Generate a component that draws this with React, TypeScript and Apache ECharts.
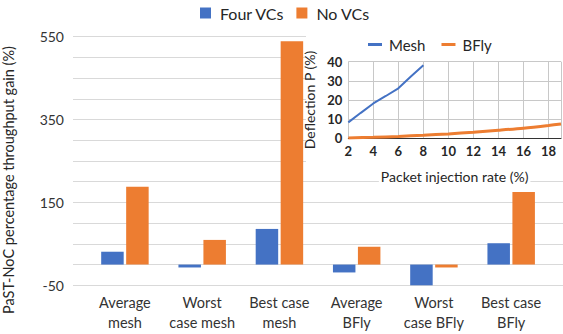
import React, { useEffect, useRef } from "react";
import * as echarts from "echarts";

const categories = [
  "Average\nmesh",
  "Worst\ncase mesh",
  "Best case\nmesh",
  "Average\nBFly",
  "Worst\ncase BFly",
  "Best case\nBFly",
];
const fourVCs = [31, -7, 86, -19, -53, 51.5];
const noVCs = [188, 59.5, 539, 43, -7, 175];
const mainTickLabels = [-50, 150, 350, 550];

const meshX = [2, 3, 4, 5, 6, 7, 8];
const meshY = [8.3, 13.3, 18.2, 22.1, 26.1, 32.3, 38.2];
const bflyX = [2, 4, 6, 8, 10, 12, 14, 16, 18, 19];
const bflyY = [0.2, 0.5, 1.0, 1.6, 2.3, 3.2, 4.2, 5.3, 6.7, 7.5];

const BLUE = "#4472C4";
const ORANGE = "#ED7D31";
const FONT = "Lato";

export default function App() {
  const ref = useRef<HTMLDivElement>(null);
  useEffect(() => {
    if (!ref.current) return;
    const chart = echarts.init(ref.current, null, { renderer: "svg" });
    const top = 36.6;
    const bottom = 334 - 285.3;
    chart.setOption({
      animation: false,
      backgroundColor: "#fff",
      textStyle: { fontFamily: FONT },
      legend: [
        {
          data: ["Four VCs", "No VCs"],
          left: 195,
          top: 0,
          itemWidth: 11,
          itemHeight: 11,
          itemGap: 12,
          icon: "rect",
          textStyle: { fontSize: 16, color: "#262626", fontFamily: FONT, padding: [0, 0, 0, 4] },
        },
        {
          data: ["Mesh", "BFly"],
          left: 363,
          top: 32,
          itemWidth: 14,
          itemHeight: 3,
          itemGap: 16,
          icon: "rect",
          textStyle: { fontSize: 15, color: "#262626", fontFamily: FONT, padding: [0, 0, 0, 2] },
          z: 10,
        },
      ],
      graphic: [
        {
          type: "rect",
          shape: { x: 306, y: 22, width: 257, height: 158 },
          style: { fill: "#fff" },
          z: 1,
          silent: true,
        },
        {
          type: "text",
          x: 8,
          y: 180,
          rotation: Math.PI / 2,
          z: 2,
          silent: true,
          style: {
            text: "PaST-NoC percentage throughput gain (%)",
            fontSize: 14.5,
            fontFamily: FONT,
            fill: "#262626",
            align: "center",
            verticalAlign: "middle",
          },
        },
      ],
      grid: [
        { left: 73, right: 0, top, bottom, containLabel: false },
        { left: 86.3, right: 563 - 549.8, top, bottom, containLabel: false },
        { left: 348.3, right: 2, top: 61.7, bottom: 334 - 138.3, containLabel: false },
      ],
      xAxis: [
        { type: "category", gridIndex: 0, show: false, data: categories },
        {
          type: "category",
          gridIndex: 1,
          data: categories,
          axisLine: { show: false },
          axisTick: { show: false },
          axisLabel: {
            fontSize: 14.5,
            lineHeight: 20,
            color: "#333",
            margin: 7,
            interval: 0,
            fontFamily: FONT,
          },
        },
        {
          type: "value",
          gridIndex: 2,
          min: 2,
          max: 19,
          interval: 2,
          z: 3,
          axisLine: { show: true, onZero: false, lineStyle: { color: "#333", width: 1 } },
          axisTick: { show: false },
          splitLine: { show: true, lineStyle: { color: "#C8C8C8", width: 1 } },
          axisLabel: {
            fontSize: 13,
            fontWeight: "bold",
            color: "#262626",
            margin: 6,
            showMaxLabel: false,
            fontFamily: FONT,
          },
          name: "Packet injection rate (%)",
          nameLocation: "middle",
          nameGap: 31,
          nameTextStyle: {
            fontSize: 14,
            color: "#262626",
            fontFamily: FONT,
            backgroundColor: "#fff",
            padding: [0, 2, 0, 2],
          },
        },
      ],
      yAxis: [
        {
          type: "value",
          gridIndex: 0,
          min: -50,
          max: 550,
          interval: 50,
          axisLine: { show: false },
          axisTick: { show: false },
          splitLine: { show: true, lineStyle: { color: "#D9D9D9", width: 1 } },
          axisLabel: {
            fontSize: 14,
            color: "#333",
            margin: 9,
            fontFamily: FONT,
            formatter: (v: number) => (mainTickLabels.indexOf(v) >= 0 ? String(v) : ""),
          },
        },
        { type: "value", gridIndex: 1, min: -50, max: 550, interval: 50, show: false, splitLine: { show: false } },
        {
          type: "value",
          gridIndex: 2,
          min: 0,
          max: 40,
          interval: 10,
          z: 3,
          axisLine: { show: false },
          axisTick: { show: false },
          splitLine: { show: true, lineStyle: { color: "#C8C8C8", width: 1 } },
          axisLabel: {
            fontSize: 13,
            fontWeight: "bold",
            color: "#262626",
            margin: 6,
            fontFamily: FONT,
          },
          name: "Deflection P (%)",
          nameLocation: "middle",
          nameGap: 31.5,
          nameTextStyle: { fontSize: 14, color: "#262626", fontFamily: FONT },
        },
      ],
      series: [
        {
          name: "Four VCs",
          type: "bar",
          xAxisIndex: 1,
          yAxisIndex: 1,
          data: fourVCs,
          barWidth: 22.5,
          barGap: "11%",
          itemStyle: { color: BLUE },
        },
        {
          name: "No VCs",
          type: "bar",
          xAxisIndex: 1,
          yAxisIndex: 1,
          data: noVCs,
          barWidth: 22.5,
          barGap: "11%",
          itemStyle: { color: ORANGE },
        },
        {
          name: "Mesh",
          type: "line",
          xAxisIndex: 2,
          yAxisIndex: 2,
          z: 5,
          data: meshX.map((x, i) => [x, meshY[i]]),
          showSymbol: false,
          symbol: "none",
          lineStyle: { color: BLUE, width: 2 },
          itemStyle: { color: BLUE },
        },
        {
          name: "BFly",
          type: "line",
          xAxisIndex: 2,
          yAxisIndex: 2,
          z: 5,
          data: bflyX.map((x, i) => [x, bflyY[i]]),
          showSymbol: false,
          symbol: "none",
          smooth: 0.3,
          lineStyle: { color: ORANGE, width: 3 },
          itemStyle: { color: ORANGE },
        },
      ],
    });
    return () => chart.dispose();
  }, []);
  return <div ref={ref} style={{ width: 563, height: 334, position: "absolute", left: 0, top: 0 }} />;
}
